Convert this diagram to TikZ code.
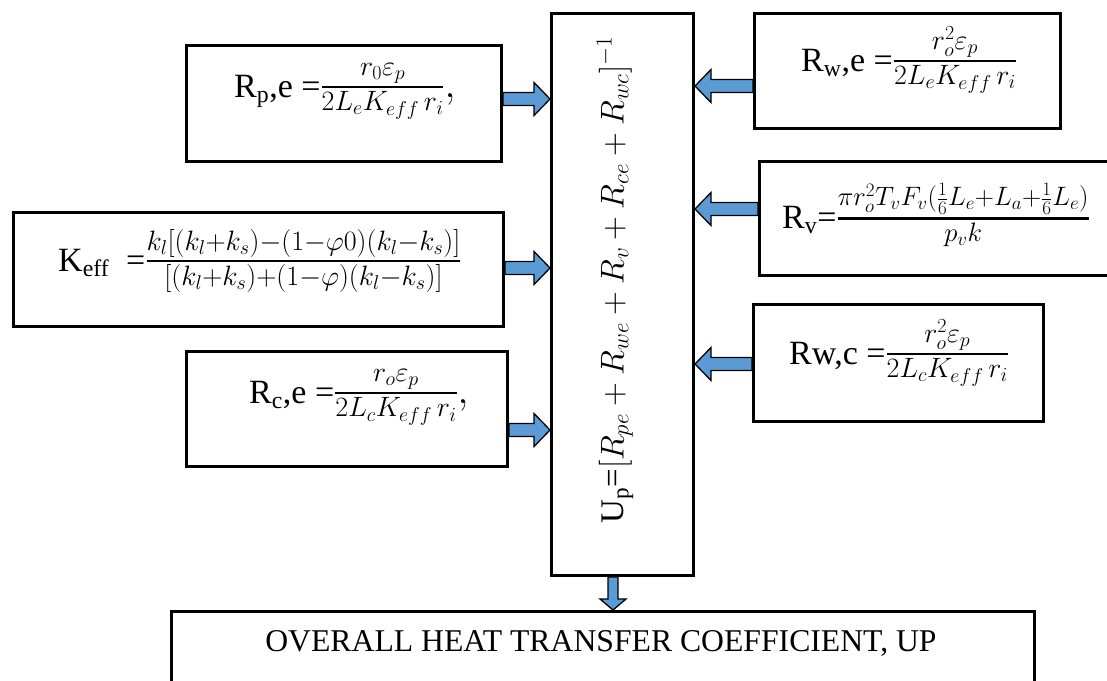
\RequirePackage{fix-cm}
\documentclass[tikz,border=0pt]{standalone}
\usepackage{amsmath}
\usepackage{fontspec}
\setmainfont{Liberation Serif}
\usetikzlibrary{calc}
\definecolor{arrowblue}{HTML}{5B9BD5}
\newcommand{\mfr}[2]{\genfrac{}{}{2.4pt}{1}{#1}{#2}}
\newcommand{\msz}{\fontsize{40}{44}\selectfont}
\tikzset{
  box/.style={draw=black, line width=3pt, inner sep=0pt, fill=white},
  lbl/.style={anchor=base west, inner sep=0pt, font=\fontsize{34}{38}\selectfont},
  barrow/.style n args={3}{draw=black, line width=1.3pt, fill=arrowblue, line join=miter,
    to path={
      ($(\tikztotarget)!#3!(\tikztostart)$) coordinate (ab)
      ($(\tikztostart)!#1!90:(\tikztotarget)$)
      -- ($(ab)!#1!90:(\tikztotarget)$)
      -- ($(ab)!#2!90:(\tikztotarget)$)
      -- (\tikztotarget)
      -- ($(ab)!#2!-90:(\tikztotarget)$)
      -- ($(ab)!#1!-90:(\tikztotarget)$)
      -- ($(\tikztostart)!#1!-90:(\tikztotarget)$)
      -- cycle}},
  hbarrow/.style={barrow={6.5pt}{16.5pt}{16pt}},
  vbarrow/.style={barrow={5pt}{13pt}{11pt}}
}
\begin{document}
\begin{tikzpicture}[x=1pt,y=-1pt]
\useasboundingbox (0,0) rectangle (1107,680);
% boxes
\node[box, minimum width=315pt, minimum height=116pt] (Rp)   at (344,103.5) {};
\node[box, minimum width=490pt, minimum height=114pt] (Keff) at (258.5,269.5) {};
\node[box, minimum width=321pt, minimum height=115pt] (Rc)   at (347,409) {};
\node[box, minimum width=306pt, minimum height=115pt] (Rwe)  at (907.5,71) {};
\node[box, minimum width=354pt, minimum height=114pt] (Rv)   at (936.5,218.5) {};
\node[box, minimum width=290pt, minimum height=117pt] (Rwc)  at (898.5,363) {};
\node[box, minimum width=142pt, minimum height=562pt] (U)    at (622.5,294.5) {};
\node[box, minimum width=863pt, minimum height=107pt] (Bot)  at (603,665) {};
% texts
\node[lbl] (tRp) at (234,97) {R\textsubscript{p},e =\msz$\mfr{r_0\varepsilon_p}{2L_eK_{eff}\,r_i},$};
\node[lbl] (tKeff) at (58,271) {K\textsubscript{eff}\ \ =\msz$\mfr{k_l[(k_l{+}k_s){-}(1{-}\varphi0)(k_l{-}k_s)]}{[(k_l{+}k_s){+}(1{-}\varphi)(k_l{-}k_s)]}$};
\node[lbl] (tRc) at (249,403) {R\textsubscript{c},e =\msz$\mfr{r_o\varepsilon_p}{2L_cK_{eff}\,r_i},$};
\node[lbl] (tRwe) at (801,71) {R\textsubscript{w},e =\msz$\mfr{r_o^2\varepsilon_p}{2L_eK_{eff}\,r_i}$};
\node[lbl] (tRv) at (782,228) {R\textsubscript{v}=\fontsize{38}{42}\selectfont$\mfr{\pi r_o^2T_vF_v(\frac{1}{6}L_e{+}L_a{+}\frac{1}{6}L_e)}{p_vk}$};
\node[lbl] (tRwc) at (789,364) {Rw,c =\msz$\mfr{r_o^2\varepsilon_p}{2L_cK_{eff}\,r_i}$};
\node[rotate=90, inner sep=0pt, font=\fontsize{33}{38}\selectfont] (tU) at (615,280) {U\textsubscript{p}=$[R_{pe}+R_{we}+R_v+R_{ce}+R_{wc}]^{-1}$};
\node[inner sep=0pt, font=\fontsize{31.7}{36}\selectfont] (tBot) at (601,643) {OVERALL HEAT TRANSFER COEFFICIENT, UP};
% arrow anchors
\coordinate (a1) at ([yshift=4.5pt]Rp.east);
\coordinate (t1) at (U.west |- a1);
\coordinate (a2) at ([yshift=1.5pt]Keff.east);
\coordinate (t2) at (U.west |- a2);
\coordinate (a3) at ([yshift=-21pt]Rc.east);
\coordinate (t3) at (U.west |- a3);
\coordinate (a4) at ([yshift=-15pt]Rwe.west);
\coordinate (t4) at (U.east |- a4);
\coordinate (a5) at ([yshift=9.5pt]Rv.west);
\coordinate (t5) at (U.east |- a5);
\coordinate (a6) at ([yshift=-1pt]Rwc.west);
\coordinate (t6) at (U.east |- a6);
\coordinate (a7) at ([xshift=-9.5pt]U.south);
\coordinate (t7) at (a7 |- Bot.north);
% arrows
\draw[hbarrow] (a1) to (t1);
\draw[hbarrow] (a2) to (t2);
\draw[hbarrow] (a3) to (t3);
\draw[hbarrow] (a4) to (t4);
\draw[hbarrow] (a5) to (t5);
\draw[hbarrow] (a6) to (t6);
\draw[vbarrow] (a7) to (t7);
\end{tikzpicture}
\end{document}
